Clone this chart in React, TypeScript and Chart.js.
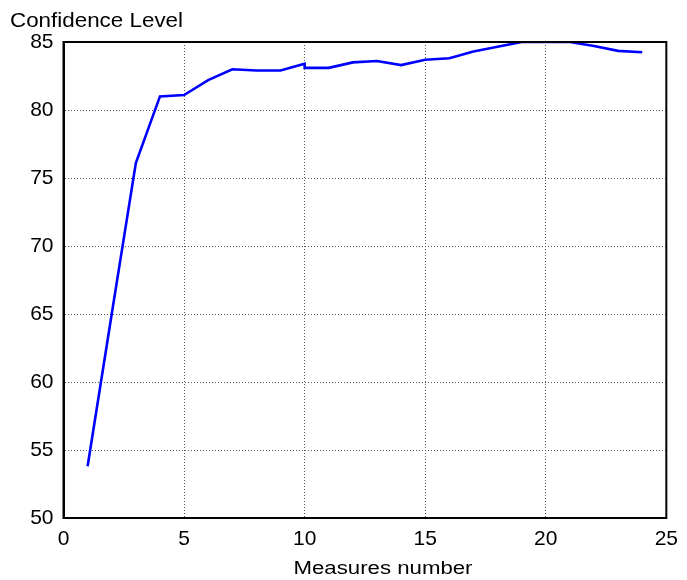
import React, { useEffect, useRef } from "react";
import { Chart, registerables } from "chart.js";

Chart.register(...registerables);

const measures = [1, 2, 3, 4, 5, 6, 7, 8, 9, 10, 10, 11, 12, 13, 14, 15, 16, 17, 18, 19, 20, 21, 22, 23, 24];
const confidence = [53.8, 65.0, 76.1, 81.0, 81.1, 82.2, 83.0, 82.9, 82.9, 83.4, 83.1, 83.1, 83.5, 83.6, 83.3, 83.7, 83.8, 84.3, 84.65, 85.0, 85.0, 85.0, 84.7, 84.35, 84.25];
const xTicks = [0, 5, 10, 15, 20, 25];
const yTicks = [50, 55, 60, 65, 70, 75, 80, 85];
const yLabel = "Confidence Level";
const xLabel = "Measures number";

const FONT = "'Liberation Sans', Arial, Helvetica, sans-serif";

function drawStretched(ctx: any, text: string, x: number, y: number, size: number, width: number, align: "left" | "center") {
  ctx.save();
  ctx.font = `${size}px ${FONT}`;
  const w = ctx.measureText(text).width;
  const sx = width / w;
  ctx.translate(x, y);
  ctx.scale(sx, 1);
  ctx.textAlign = align;
  ctx.textBaseline = "alphabetic";
  ctx.fillStyle = "#000";
  ctx.fillText(text, 0, 0);
  ctx.restore();
}

const textPlugin = {
  id: "axisTexts",
  afterDraw(chart: any) {
    const ctx = chart.ctx;
    drawStretched(ctx, yLabel, 10, 26.7, 21, 173, "left");
    drawStretched(ctx, xLabel, 383, 574, 17.5, 179, "center");
  },
};

export default function App() {
  const ref = useRef<HTMLCanvasElement>(null);
  useEffect(() => {
    document.body.style.margin = "0";
    const chart = new Chart(ref.current!, {
      type: "scatter",
      data: {
        datasets: [
          {
            data: measures.map((x, i) => ({ x, y: confidence[i] })),
            showLine: true,
            borderColor: "#0000ff",
            backgroundColor: "#0000ff",
            borderWidth: 2.6,
            pointRadius: 0,
            tension: 0,
          },
        ],
      },
      options: {
        responsive: false,
        animation: false,
        events: [],
        layout: { padding: { left: 0, right: 19, top: 42, bottom: 0 } },
        plugins: { legend: { display: false }, tooltip: { enabled: false }, title: { display: false } },
        scales: {
          x: {
            type: "linear",
            min: 0,
            max: 25,
            afterBuildTicks: (s: any) => {
              s.ticks = xTicks.map((v) => ({ value: v }));
            },
            afterFit: (s: any) => {
              s.height = 62;
            },
            ticks: { color: "#000", font: { family: FONT, size: 21 }, padding: 9 },
            grid: { color: "#555", drawTicks: false, lineWidth: 1 },
            border: { color: "#000", width: 2, dash: [1, 2] as any },
          } as any,
          y: {
            type: "linear",
            min: 50,
            max: 85,
            afterBuildTicks: (s: any) => {
              s.ticks = yTicks.map((v) => ({ value: v }));
            },
            afterFit: (s: any) => {
              s.width = 63.5;
            },
            ticks: { color: "#000", font: { family: FONT, size: 21 }, padding: 10 },
            grid: { color: "#555", drawTicks: false, lineWidth: 1 },
            border: { color: "#000", width: 2, dash: [1, 2] as any },
          } as any,
        },
      },
      plugins: [
        textPlugin,
        {
          id: "frame",
          afterDatasetsDraw(chart: any) {
            const { left, right, top, bottom } = chart.chartArea;
            const ctx = chart.ctx;
            ctx.save();
            ctx.strokeStyle = "#000";
            ctx.lineWidth = 2;
            ctx.strokeRect(left, top, right - left, bottom - top);
            ctx.restore();
          },
        },
      ],
    });
    return () => chart.destroy();
  }, []);
  return <canvas ref={ref} width={687} height={580} style={{ display: "block" }} />;
}
